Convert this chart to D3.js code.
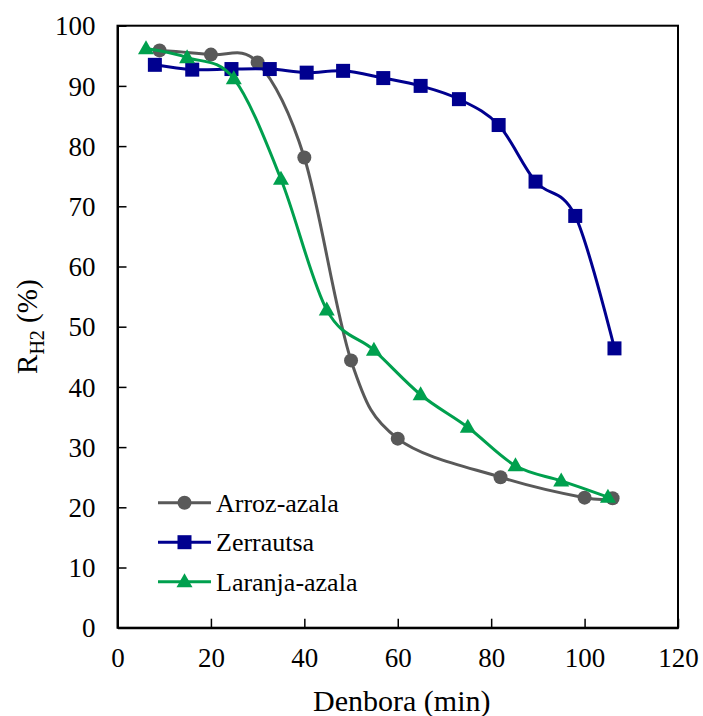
<!DOCTYPE html>
<html>
<head>
<meta charset="utf-8">
<script src="https://cdn.jsdelivr.net/npm/d3@7/dist/d3.min.js"></script>
<style>
  html, body { margin: 0; padding: 0; background: #fff; }
  svg { display: block; }
  text { font-family: "Liberation Serif", "Times New Roman", Times, serif; fill: #000; }
</style>
</head>
<body>
<svg id="chart" width="703" height="716"></svg>
<script>
// Hydrogen removal over time for three adsorbents
const arrozX = [9, 20, 30, 40, 50, 60, 82, 100, 106];
const arrozY = [95.9, 95.2, 93.9, 78.1, 44.4, 31.4, 25.0, 21.6, 21.5];

const zerrautsaX = [8, 16, 24.4, 32.6, 40.5, 48.3, 56.9, 64.9, 73.1, 81.6, 89.5, 98, 106.4];
const zerrautsaY = [93.5, 92.7, 92.8, 92.8, 92.2, 92.5, 91.3, 90.0, 87.8, 83.5, 74.1, 68.4, 46.4];

const laranjaX = [6.1, 14.9, 24.9, 35, 44.8, 54.9, 64.9, 75, 85.2, 95, 105];
const laranjaY = [96.2, 94.7, 91.2, 74.5, 52.8, 46.1, 38.7, 33.3, 26.9, 24.4, 21.7];

const seriesNames = ["Arroz-azala", "Zerrautsa", "Laranja-azala"];
const xTicks = [0, 20, 40, 60, 80, 100, 120];
const yTicks = [0, 10, 20, 30, 40, 50, 60, 70, 80, 90, 100];

const series = [
  { name: seriesNames[0], xs: arrozX, ys: arrozY, color: "#595959", marker: "circle" },
  { name: seriesNames[1], xs: zerrautsaX, ys: zerrautsaY, color: "#00008f", marker: "square" },
  { name: seriesNames[2], xs: laranjaX, ys: laranjaY, color: "#00a04e", marker: "triangle" }
];

const FONT = '"Liberation Serif", "Times New Roman", Times, serif';
const svg = d3.select("#chart");
const plot = { left: 117.5, right: 678, top: 25.7, bottom: 627.7 };

const x = d3.scaleLinear().domain([0, 120]).range([plot.left, plot.right]);
const y = d3.scaleLinear().domain([0, 100]).range([plot.bottom, plot.top]);

// Frame around the plotting area
svg.append("rect")
  .attr("x", plot.left).attr("y", plot.top)
  .attr("width", plot.right - plot.left).attr("height", plot.bottom - plot.top)
  .attr("fill", "none").attr("stroke", "#000").attr("stroke-width", 2);

// Axes with inward ticks
const xAxis = svg.append("g")
  .attr("transform", `translate(0,${plot.bottom})`)
  .call(d3.axisBottom(x).tickValues(xTicks).tickSizeInner(-9).tickSizeOuter(0).tickPadding(20));
const yAxis = svg.append("g")
  .attr("transform", `translate(${plot.left},0)`)
  .call(d3.axisLeft(y).tickValues(yTicks).tickSizeInner(-9).tickSizeOuter(0).tickPadding(22));

[xAxis, yAxis].forEach(g => {
  g.attr("font-family", FONT);
  g.select(".domain").attr("stroke", "#000").attr("stroke-width", 2);
  g.selectAll(".tick line").attr("stroke", "#000").attr("stroke-width", 1.5);
  g.selectAll(".tick text")
    .style("font-family", FONT)
    .style("font-size", "27px").attr("fill", "#000");
});
xAxis.selectAll(".tick text").attr("dy", "0.71em");
yAxis.selectAll(".tick text").attr("dy", "0.34em");

// Axis titles
svg.append("text")
  .attr("x", (plot.left + plot.right) / 2 + 4).attr("y", 711)
  .attr("text-anchor", "middle").style("font-size", "30px")
  .text("Denbora (min)");

const yTitle = svg.append("text")
  .attr("transform", `translate(37,${(plot.top + plot.bottom) / 2}) rotate(-90)`)
  .attr("text-anchor", "middle").style("font-size", "29px");
yTitle.append("tspan").text("R");
yTitle.append("tspan").attr("dy", 7).style("font-size", "20px").text("H2");
yTitle.append("tspan").attr("dy", -7).text(" (%)");

// Marker shapes
function drawMarker(g, kind, cx, cy, color) {
  if (kind === "circle") {
    g.append("circle").attr("cx", cx).attr("cy", cy).attr("r", 7).attr("fill", color);
  } else if (kind === "square") {
    g.append("rect").attr("x", cx - 7).attr("y", cy - 7).attr("width", 14).attr("height", 14).attr("fill", color);
  } else {
    const h = 14, w = 16;
    g.append("path")
      .attr("d", `M${cx},${cy - h * 0.6}L${cx + w / 2},${cy + h * 0.4}L${cx - w / 2},${cy + h * 0.4}Z`)
      .attr("fill", color);
  }
}

const line = d3.line()
  .x(d => x(d[0])).y(d => y(d[1]))
  .curve(d3.curveCatmullRom.alpha(0));

series.forEach(s => {
  const pts = s.xs.map((v, i) => [v, s.ys[i]]);
  const g = svg.append("g");
  g.append("path").datum(pts)
    .attr("d", line).attr("fill", "none")
    .attr("stroke", s.color).attr("stroke-width", 3);
  pts.forEach(p => drawMarker(g, s.marker, x(p[0]), y(p[1]), s.color));
});

// Legend
const legend = svg.append("g");
series.forEach((s, i) => {
  const ly = 502.7 + i * 39.5;
  legend.append("line")
    .attr("x1", 158).attr("x2", 211).attr("y1", ly).attr("y2", ly)
    .attr("stroke", s.color).attr("stroke-width", 3);
  drawMarker(legend, s.marker, 184.5, ly, s.color);
  legend.append("text")
    .attr("x", 216).attr("y", ly + 9)
    .style("font-size", "26px")
    .text(s.name);
});
</script>
</body>
</html>
